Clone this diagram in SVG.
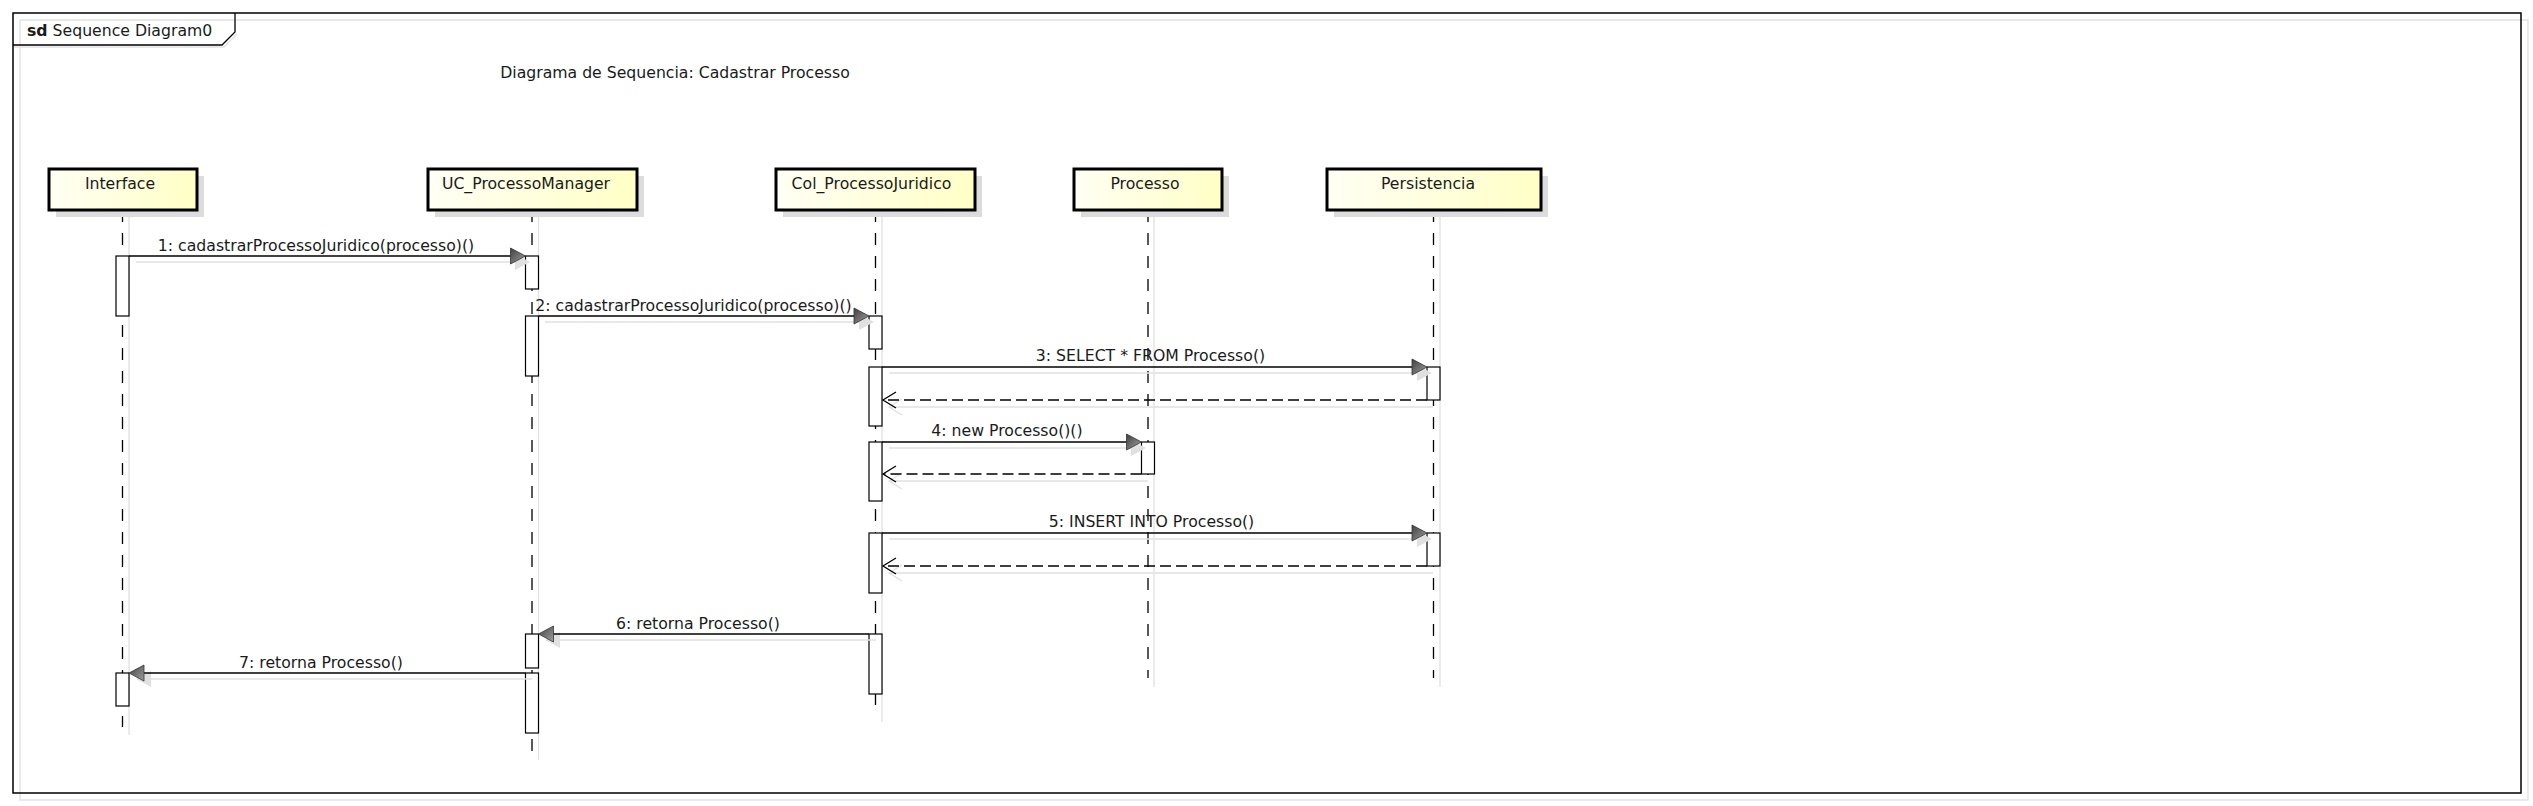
<svg xmlns="http://www.w3.org/2000/svg" width="2533" height="806" viewBox="0 0 2533 806">
<style>
text{font-family:"DejaVu Sans","Liberation Sans",sans-serif;font-size:15.7px;fill:#1a1a1a}
.mid{text-anchor:middle}
.box{fill:url(#boxg);stroke:#000;stroke-width:3}
.bsh{fill:#dcdcdc}
.life{stroke:#000;stroke-width:1.3;stroke-dasharray:12,11;fill:none}
.lsh{stroke:#e0e0e0;stroke-width:1.3;fill:none}
.act{fill:#fff;stroke:#000;stroke-width:1.2}
.msg{stroke:#000;stroke-width:1.3;fill:none}
.ret{stroke:#000;stroke-width:1.3;fill:none;stroke-dasharray:11,5}
.msh{stroke:#e0e0e0;stroke-width:1.3;fill:none}
.head{fill:url(#headg);stroke:#333;stroke-width:0.8}
.hsh{fill:#e0e0e0}
.open{stroke:#000;stroke-width:1.3;fill:none}
</style>
<defs>
<linearGradient id="boxg" x1="0" y1="0" x2="1" y2="0">
<stop offset="0" stop-color="#fffff4"/>
<stop offset="1" stop-color="#ffffc6"/>
</linearGradient>
<linearGradient id="headg" x1="0" y1="0" x2="1" y2="1">
<stop offset="0" stop-color="#404040"/>
<stop offset="1" stop-color="#a0a0a0"/>
</linearGradient>
</defs>
<rect width="2533" height="806" fill="#fff"/>

<g id="frame">
<rect x="20" y="20" width="2508" height="780" fill="none" stroke="#dedede" stroke-width="1.3"/>
<rect x="13" y="13" width="2508" height="780" fill="none" stroke="#000" stroke-width="1.5"/>
<path d="M14,47 L224,47 L237,34" fill="none" stroke="#e2e2e2" stroke-width="1.3"/>
<path d="M13,45 L222,45 L235,32 L235,13" fill="none" stroke="#000" stroke-width="1.3"/>
<text x="27" y="36"><tspan font-weight="bold">sd</tspan> Sequence Diagram0</text>
</g>

<g id="title">
<text class="mid" x="675" y="78">Diagrama de Sequencia: Cadastrar Processo</text>
</g>

<g id="lifelines">
<line class="lsh" x1="129" y1="216" x2="129" y2="735"/>
<line class="life" x1="122.5" y1="210" x2="122.5" y2="727"/>
<line class="lsh" x1="538.5" y1="216" x2="538.5" y2="760"/>
<line class="life" x1="532" y1="210" x2="532" y2="752"/>
<line class="lsh" x1="882" y1="216" x2="882" y2="722"/>
<line class="life" x1="875.5" y1="210" x2="875.5" y2="714"/>
<line class="lsh" x1="1154" y1="216" x2="1154" y2="687"/>
<line class="life" x1="1148" y1="210" x2="1148" y2="678"/>
<line class="lsh" x1="1440" y1="216" x2="1440" y2="687"/>
<line class="life" x1="1433.5" y1="210" x2="1433.5" y2="678"/>
</g>

<g id="node-interface">
<rect class="bsh" x="56" y="176" width="148" height="41"/>
<rect class="box" x="49" y="169" width="148" height="41"/>
<text class="mid" x="120" y="189">Interface</text>
</g>
<g id="node-ucprocessomanager">
<rect class="bsh" x="435" y="176" width="209" height="41"/>
<rect class="box" x="428" y="169" width="209" height="41"/>
<text class="mid" x="526" y="189">UC_ProcessoManager</text>
</g>
<g id="node-colprocessojuridico">
<rect class="bsh" x="783" y="176" width="199" height="41"/>
<rect class="box" x="776" y="169" width="199" height="41"/>
<text class="mid" x="871.5" y="189">Col_ProcessoJuridico</text>
</g>
<g id="node-processo">
<rect class="bsh" x="1081" y="176" width="148" height="41"/>
<rect class="box" x="1074" y="169" width="148" height="41"/>
<text class="mid" x="1145" y="189">Processo</text>
</g>
<g id="node-persistencia">
<rect class="bsh" x="1334" y="176" width="214" height="41"/>
<rect class="box" x="1327" y="169" width="214" height="41"/>
<text class="mid" x="1428" y="189">Persistencia</text>
</g>

<g id="activations">
<rect class="act" x="116" y="256" width="13" height="60"/>
<rect class="act" x="116" y="673" width="13" height="33"/>
<rect class="act" x="525.5" y="256" width="13" height="33"/>
<rect class="act" x="525.5" y="316" width="13" height="60"/>
<rect class="act" x="525.5" y="634" width="13" height="34"/>
<rect class="act" x="525.5" y="673" width="13" height="60"/>
<rect class="act" x="869" y="316" width="13" height="33"/>
<rect class="act" x="869" y="367" width="13" height="59"/>
<rect class="act" x="869" y="442" width="13" height="59"/>
<rect class="act" x="869" y="533" width="13" height="60"/>
<rect class="act" x="869" y="634" width="13" height="60"/>
<rect class="act" x="1141.5" y="442" width="13" height="32"/>
<rect class="act" x="1427" y="367" width="13" height="33"/>
<rect class="act" x="1427" y="533" width="13" height="33"/>
</g>

<g id="connectors">
<line class="msh" x1="136" y1="262" x2="518" y2="262"/>
<polygon class="hsh" points="515,254 530,262 515,270"/>
<line class="msg" x1="129" y1="256" x2="512" y2="256"/>
<polygon class="head" points="510.5,248 525.5,256 510.5,264"/>
<text class="mid" x="316" y="251">1: cadastrarProcessoJuridico(processo)()</text>

<line class="msh" x1="545" y1="322" x2="862" y2="322"/>
<polygon class="hsh" points="859,314 874,322 859,330"/>
<line class="msg" x1="538.5" y1="316" x2="856" y2="316"/>
<polygon class="head" points="854,308 869,316 854,324"/>
<text class="mid" x="693.5" y="311">2: cadastrarProcessoJuridico(processo)()</text>

<line class="msh" x1="889" y1="373" x2="1420" y2="373"/>
<polygon class="hsh" points="1417,365 1432,373 1417,381"/>
<line class="msg" x1="882" y1="367" x2="1414" y2="367"/>
<polygon class="head" points="1412,359 1427,367 1412,375"/>
<text class="mid" x="1150.5" y="361">3: SELECT * FROM Processo()</text>

<line class="msh" x1="889" y1="407" x2="1433" y2="407"/>
<path class="msh" d="M902,399 L889,407 L902,415"/>
<line class="ret" x1="1427" y1="400" x2="883" y2="400"/>
<path class="open" d="M896,392 L883,400 L896,408"/>

<line class="msh" x1="889" y1="448" x2="1134" y2="448"/>
<polygon class="hsh" points="1131,440 1146,448 1131,456"/>
<line class="msg" x1="882" y1="442" x2="1128" y2="442"/>
<polygon class="head" points="1126.5,434 1141.5,442 1126.5,450"/>
<text class="mid" x="1007" y="436">4: new Processo()()</text>

<line class="msh" x1="889" y1="481" x2="1148" y2="481"/>
<path class="msh" d="M902,473 L889,481 L902,489"/>
<line class="ret" x1="1141.5" y1="474" x2="883" y2="474"/>
<path class="open" d="M896,466 L883,474 L896,482"/>

<line class="msh" x1="889" y1="539" x2="1420" y2="539"/>
<polygon class="hsh" points="1417,531 1432,539 1417,547"/>
<line class="msg" x1="882" y1="533" x2="1414" y2="533"/>
<polygon class="head" points="1412,525 1427,533 1412,541"/>
<text class="mid" x="1151.5" y="527">5: INSERT INTO Processo()</text>

<line class="msh" x1="889" y1="573" x2="1433" y2="573"/>
<path class="msh" d="M902,565 L889,573 L902,581"/>
<line class="ret" x1="1427" y1="566" x2="883" y2="566"/>
<path class="open" d="M896,558 L883,566 L896,574"/>

<line class="msh" x1="555" y1="640" x2="876" y2="640"/>
<polygon class="hsh" points="560,632 545,640 560,648"/>
<line class="msg" x1="869" y1="634" x2="552" y2="634"/>
<polygon class="head" points="553.5,626 538.5,634 553.5,642"/>
<text class="mid" x="698" y="629">6: retorna Processo()</text>

<line class="msh" x1="146" y1="679" x2="532" y2="679"/>
<polygon class="hsh" points="151,671 136,679 151,687"/>
<line class="msg" x1="525.5" y1="673" x2="142" y2="673"/>
<polygon class="head" points="144,665 129,673 144,681"/>
<text class="mid" x="321" y="668">7: retorna Processo()</text>
</g>
</svg>
